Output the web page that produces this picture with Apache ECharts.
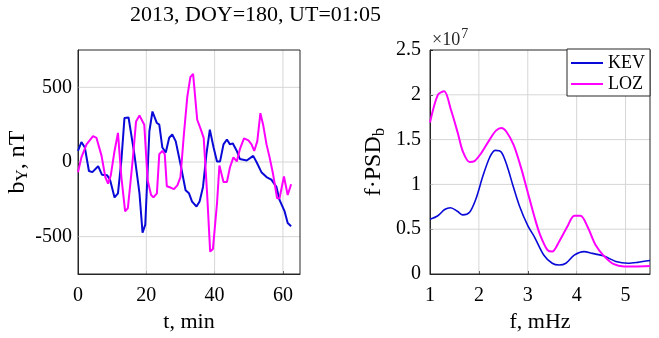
<!DOCTYPE html>
<html>
<head>
<meta charset="utf-8">
<script src="https://cdn.jsdelivr.net/npm/echarts@6/dist/echarts.min.js"></script>
<style>
  html, body { margin: 0; padding: 0; background: #fff; }
  #chart { width: 659px; height: 338px; }
</style>
</head>
<body>
<div id="chart"></div>
<script>
// left panel: b_Y (nT) vs time (min)
const kevT = [0, 1, 2, 3.2, 4.2, 5.9, 7, 8.5, 9.4, 10.7, 11.7, 12.7, 13.6, 14.8, 16.5, 18, 18.9, 19.7, 20.9, 21.8, 23.1, 23.8, 24.7, 25.7, 26.7, 27.6, 28.6, 30, 31.5, 32.5, 33.4, 34.7, 35.6, 36.6, 37.6, 38.6, 39.7, 40.7, 41.6, 42.6, 43.6, 44.5, 45.3, 46.5, 47.4, 49.4, 51.3, 52.3, 53.7, 55.2, 56.6, 58.1, 59, 60.5, 61.4, 62.4];
const kevB = [74, 134, 97, -60, -68, -28, -85, -88, -120, -237, -210, 9, 294, 298, 53, -210, -474, -419, 206, 338, 261, 250, 97, 64, 162, 184, 140, -13, -189, -210, -265, -298, -265, -167, 53, 217, 97, 4, 4, 118, 151, 118, 125, 74, 20, 10, 41, -2, -68, -101, -118, -167, -254, -331, -408, -430];
const lozT = [0, 1, 2.5, 4.4, 5.4, 6.9, 8, 8.8, 9.6, 10.7, 11.7, 12.7, 13.8, 14.6, 16, 17, 18, 19.4, 20.4, 21.4, 22.1, 23.1, 23.8, 24.7, 25.4, 26, 27.1, 28.1, 29.1, 30, 31, 32, 32.9, 33.7, 34.9, 35.8, 36.8, 37.8, 38.7, 39.5, 40.7, 41.4, 42.6, 43.6, 44.5, 45.5, 46.5, 47.4, 48.6, 49.9, 50.8, 51.6, 52.5, 53.4, 54.2, 55.2, 56.1, 57.1, 58.3, 59, 60.3, 61.4, 62.4];
const lozB = [-68, 31, 118, 173, 162, 41, -101, -145, -90, 74, 195, -101, -331, -309, 9, 272, 311, 250, -123, -221, -237, -210, 53, 74, 53, -162, -171, -182, -156, -101, 184, 436, 568, 590, 283, 228, 162, -210, -600, -583, -276, -24, -134, -134, -35, 31, 4, 86, 158, 145, 118, 74, 140, 327, 250, 118, 31, -79, -243, -243, -97, -221, -149];

// right panel: f*PSD (units of 1e7) vs frequency (mHz)
const kevF = [1.0, 1.16, 1.3, 1.42, 1.56, 1.67, 1.81, 1.94, 2.08, 2.22, 2.33, 2.46, 2.58, 2.69, 2.83, 3.0, 3.14, 3.33, 3.5, 3.64, 3.78, 3.95, 4.15, 4.32, 4.56, 4.8, 5.05, 5.25, 5.5];
const kevPsd = [0.61, 0.65, 0.72, 0.74, 0.70, 0.66, 0.69, 0.84, 1.09, 1.30, 1.38, 1.36, 1.20, 1.00, 0.76, 0.54, 0.41, 0.21, 0.12, 0.10, 0.12, 0.21, 0.25, 0.23, 0.20, 0.14, 0.12, 0.13, 0.15];
const lozF = [1.0, 1.16, 1.29, 1.43, 1.57, 1.67, 1.81, 1.91, 2.05, 2.22, 2.35, 2.46, 2.56, 2.71, 2.86, 3.0, 3.14, 3.25, 3.4, 3.5, 3.64, 3.81, 3.95, 4.08, 4.22, 4.39, 4.56, 4.76, 4.97, 5.17, 5.5];
const lozPsd = [1.69, 2.0, 2.04, 1.83, 1.57, 1.37, 1.25, 1.26, 1.35, 1.5, 1.60, 1.63, 1.59, 1.44, 1.19, 0.91, 0.63, 0.44, 0.27, 0.25, 0.36, 0.53, 0.65, 0.65, 0.53, 0.32, 0.20, 0.11, 0.085, 0.085, 0.09];

// axis ranges and gridline positions
const tRange = [0, 65];
const byRange = [-750, 750];
const fRange = [1, 5.5];
const psdRange = [0, 2.5];
const tTicks = [20, 40, 60];
const byTicks = [-500, 0, 500];
const fTicks = [2, 3, 4, 5];
const psdTicks = [0.5, 1, 1.5, 2];

const seriesNames = ["KEV", "LOZ"];
const colors = ["#0a0ad8", "#ff00ff"];

const FONT = "'Liberation Serif', 'DejaVu Serif', serif";
const INK = "#262626";
const GRID = "#d6d6d6";

const pairs = (xs, ys) => xs.map((x, i) => [x, ys[i]]);

const axisLine = { show: true, onZero: false, lineStyle: { color: INK, width: 1 } };
const axisTick = { show: true, inside: true, length: 3, lineStyle: { color: INK } };
const labelStyle = { color: "#000", fontFamily: FONT, fontSize: 20 };
const xNameStyle = { color: "#000", fontFamily: FONT, fontSize: 22 };

const subRich = {
  a: { fontFamily: FONT, fontSize: 24, color: "#000" },
  s: { fontFamily: FONT, fontSize: 17, color: "#000", padding: [11, 0, 0, 0] },
};

// helper line (gridline or frame) drawn through the panel's axes
const guide = (gi, data, color, clip) => ({
  type: "line", xAxisIndex: gi, yAxisIndex: gi, data, silent: true, clip,
  symbol: "none", showSymbol: false, animation: false,
  lineStyle: { color, width: 1 }, emphasis: { disabled: true },
});

const guides = (gi, xr, yr, xt, yt) => [
  ...xt.map((v) => guide(gi, [[v, yr[0]], [v, yr[1]]], GRID, true)),
  ...yt.map((v) => guide(gi, [[xr[0], v], [xr[1], v]], GRID, true)),
  guide(gi, [[xr[0], yr[0]], [xr[1], yr[0]], [xr[1], yr[1]], [xr[0], yr[1]], [xr[0], yr[0]]], INK, false),
];

const chart = echarts.init(document.getElementById("chart"));

chart.setOption({
  animation: false,
  title: {
    text: "2013, DOY=180, UT=01:05",
    left: 130,
    top: 4,
    padding: 0,
    textStyle: { fontFamily: FONT, fontSize: 22, fontWeight: "normal", color: "#000" },
  },
  legend: {
    data: seriesNames,
    orient: "vertical",
    right: 9,
    top: 49,
    icon: "rect",
    itemWidth: 32,
    itemHeight: 2,
    itemGap: 3,
    padding: [5, 5, 3, 4],
    backgroundColor: "#fff",
    borderColor: INK,
    borderWidth: 1,
    borderRadius: 0,
    textStyle: { fontFamily: FONT, fontSize: 18, color: "#000" },
  },
  grid: [
    { left: 78, top: 50, right: 359, bottom: 61 },
    { left: 430, top: 50, right: 9, bottom: 61 },
  ],
  xAxis: [
    {
      type: "value", gridIndex: 0, min: tRange[0], max: tRange[1], interval: 20,
      axisLine, axisTick, splitLine: { show: false },
      axisLabel: { ...labelStyle, margin: 12, showMaxLabel: false },
      name: "t, min", nameLocation: "middle", nameGap: 37, nameTextStyle: xNameStyle,
    },
    {
      type: "value", gridIndex: 1, min: fRange[0], max: fRange[1], interval: 1,
      axisLine, axisTick, splitLine: { show: false },
      axisLabel: { ...labelStyle, margin: 12, showMaxLabel: false },
      name: "f, mHz", nameLocation: "middle", nameGap: 37, nameTextStyle: xNameStyle,
    },
  ],
  yAxis: [
    {
      // ticks every 250 from -750; only -500, 0, 500 are labelled
      type: "value", gridIndex: 0, min: byRange[0], max: byRange[1], interval: 250,
      axisLine, axisTick: { show: false }, splitLine: { show: false },
      axisLabel: { ...labelStyle, margin: 6, formatter: (v) => (byTicks.includes(v) ? String(v) : "") },
      name: "{a|b}{s|Y}{a|, nT}", nameLocation: "middle", nameGap: 37,
      nameTextStyle: { ...xNameStyle, rich: subRich },
    },
    {
      type: "value", gridIndex: 1, min: psdRange[0], max: psdRange[1], interval: 0.5,
      axisLine, axisTick, splitLine: { show: false },
      axisLabel: { ...labelStyle, margin: 9 },
      name: "{a|f·PSD}{s|b}", nameLocation: "middle", nameGap: 42,
      nameTextStyle: { ...xNameStyle, rich: subRich },
    },
  ],
  series: [
    ...guides(0, tRange, byRange, tTicks, byTicks),
    ...guides(1, fRange, psdRange, fTicks, psdTicks),
    {
      name: seriesNames[0], type: "line", xAxisIndex: 0, yAxisIndex: 0,
      data: pairs(kevT, kevB), showSymbol: false, symbol: "none",
      lineStyle: { color: colors[0], width: 2 }, itemStyle: { color: colors[0] },
    },
    {
      name: seriesNames[1], type: "line", xAxisIndex: 0, yAxisIndex: 0,
      data: pairs(lozT, lozB), showSymbol: false, symbol: "none",
      lineStyle: { color: colors[1], width: 2 }, itemStyle: { color: colors[1] },
    },
    {
      name: seriesNames[0], type: "line", xAxisIndex: 1, yAxisIndex: 1, smooth: 0.3,
      data: pairs(kevF, kevPsd), showSymbol: false, symbol: "none",
      lineStyle: { color: colors[0], width: 1.6 }, itemStyle: { color: colors[0] },
    },
    {
      name: seriesNames[1], type: "line", xAxisIndex: 1, yAxisIndex: 1, smooth: 0.3,
      data: pairs(lozF, lozPsd), showSymbol: false, symbol: "none",
      lineStyle: { color: colors[1], width: 2 }, itemStyle: { color: colors[1] },
    },
  ],
  graphic: [
    {
      // exponent of the PSD axis
      type: "text", left: 432, top: 27,
      style: {
        text: "{a|×10}{e|7}",
        rich: {
          a: { fontFamily: FONT, fontSize: 18, fill: INK, padding: [6, 0, 0, 0] },
          e: { fontFamily: FONT, fontSize: 14, fill: INK, padding: [0, 0, 6, 1] },
        },
      },
    },
  ],
});
</script>
</body>
</html>
